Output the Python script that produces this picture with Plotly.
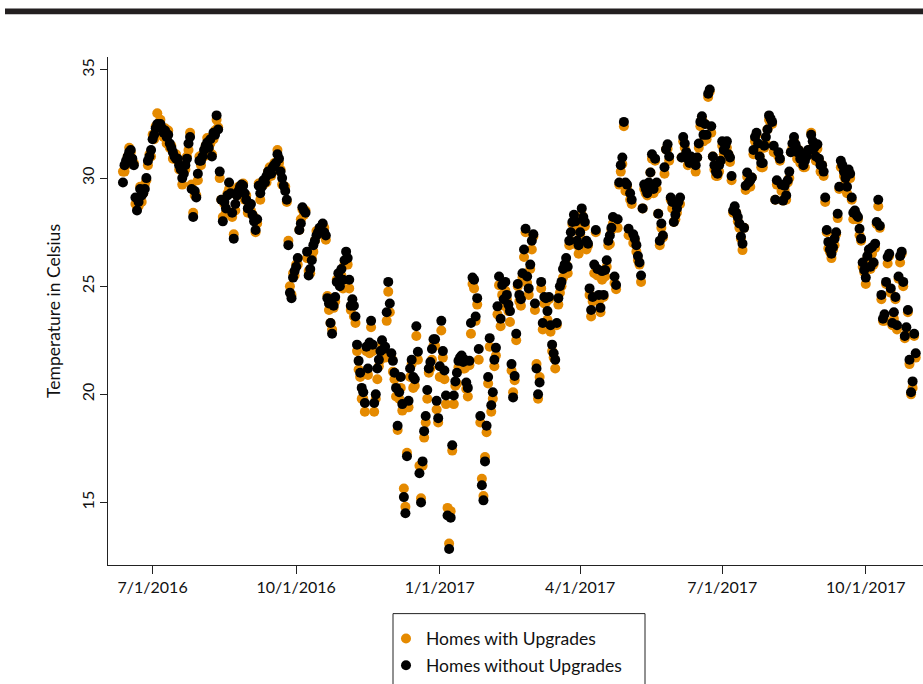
import pandas as pd
import plotly.graph_objects as go

# ---------------- data (daily readings, first day 2016-06-12) ----------------
start_date = "2016-06-12"

series_names = ["Homes with Upgrades", "Homes without Upgrades"]

without_upgrades = [
    29.8, 30.6, 30.8, 31.0, 31.2, 31.3, 30.9, 30.6, 29.1, 28.5,
    28.9, 29.5, 29.2, 29.3, 29.5, 30.0, 30.8, 31.0, 31.3, 31.8,
    32.0, 32.3, 32.5, 32.4, 32.5, 32.3, 32.1, 32.2, 31.9, 32.0,
    31.6, 31.4, 31.2, 31.0, 30.9, 30.9, 30.6, 30.4, 30.0, 30.2,
    30.6, 30.9, 31.6, 31.9, 29.5, 28.2, 29.4, 29.1, 30.2, 30.8,
    30.8, 31.0, 31.3, 31.5, 31.65, 31.4, 31.8, 31.0, 32.1, 32.0,
    32.9, 32.25, 30.3, 29.0, 28.0, 28.9, 28.6, 29.2, 29.8, 29.3,
    28.4, 27.2, 28.8, 29.2, 29.4, 29.6, 29.7, 29.65, 29.3, 29.0,
    28.6, 28.7, 28.8, 28.3, 28.0, 27.6, 28.1, 29.65, 29.3, 29.6,
    29.9, 29.8, 30.1, 30.3, 30.3, 30.2, 30.5, 30.6, 30.7, 31.1,
    30.9, 30.3, 30.0, 29.65, 29.4, 29.0, 26.9, 24.7, 24.45, 25.4,
    25.7, 25.9, 26.3, 27.6, 27.9, 28.65, 28.5, 28.4, 26.6, 25.5,
    25.8, 26.2, 26.9, 27.1, 27.35, 27.5, 27.7, 27.6, 27.9, 27.5,
    27.35, 24.45, 24.2, 23.3, 22.8, 24.1, 24.5, 25.2, 25.6, 25.0,
    25.8, 25.3, 26.2, 26.6, 26.3, 25.3, 24.1, 24.4, 24.1, 23.6,
    22.3, 21.55, 21.0, 20.3, 20.1, 19.6, 22.2, 21.2, 22.4, 23.4,
    22.3, 19.6, 20.0, 21.2, 21.6, 22.0, 22.5, 22.1, 22.2, 23.8,
    25.2, 24.2, 21.9, 21.55, 21.0, 20.3, 18.55, 20.1, 20.8, 19.55,
    15.25, 14.5, 17.14, 19.7, 21.2, 21.6, 20.8, 20.7, 23.15, 21.97,
    16.35, 15.0, 16.9, 18.3, 19.0, 20.2, 21.2, 21.5, 22.1, 22.55,
    22.55, 19.7, 18.9, 21.3, 23.4, 22.0, 21.1, 19.95, 14.4, 12.85,
    14.3, 17.65, 19.95, 20.6, 21.0, 21.55, 21.7, 21.8, 21.5, 21.6,
    20.55, 20.3, 21.55, 23.3, 25.4, 25.3, 23.6, 24.45, 22.1, 19.0,
    15.8, 15.1, 16.9, 18.55, 20.8, 22.6, 19.5, 20.1, 21.6, 22.15,
    24.07, 25.45, 23.5, 25.06, 24.4, 25.2, 24.6, 24.15, 23.85, 21.4,
    19.86, 20.85, 22.8, 25.1, 24.6, 24.4, 25.6, 26.7, 27.66, 25.45,
    24.9, 26.0, 27.1, 27.4, 24.2, 21.2, 20.0, 20.55, 25.2, 23.3,
    24.5, 24.45, 23.85, 24.5, 23.2, 22.3, 21.9, 21.6, 23.3, 24.45,
    25.0, 25.2, 25.8, 26.0, 26.3, 25.9, 27.1, 27.5, 27.97, 28.3,
    28.0, 27.1, 26.9, 27.5, 28.6, 28.2, 27.97, 27.1, 26.97, 24.9,
    23.9, 24.5, 26.0, 27.6, 25.8, 24.6, 24.0, 25.7, 24.6, 25.75,
    26.2, 27.1, 27.35, 27.7, 28.2, 25.45, 25.06, 28.1, 29.8, 30.6,
    30.95, 32.6, 29.8, 29.7, 27.66, 29.3, 29.0, 27.4, 27.2, 26.9,
    26.4, 26.1, 25.5, 28.6, 29.7, 29.5, 29.3, 29.8, 30.26, 31.1,
    29.5, 30.9, 29.8, 28.35, 27.1, 27.9, 27.35, 30.5, 31.33, 31.56,
    31.0, 29.1, 28.9, 27.97, 28.3, 28.6, 28.9, 29.1, 30.95, 31.9,
    31.6, 31.2, 30.9, 30.7, 31.0, 30.9, 30.8, 30.6, 30.95, 31.6,
    32.6, 32.86, 32.0, 32.5, 32.0, 33.9, 34.1, 32.4, 31.0, 30.6,
    30.3, 30.2, 30.6, 30.8, 31.7, 31.3, 31.5, 31.7, 31.1, 30.95,
    30.1, 28.5, 28.7, 28.4, 28.2, 27.9, 27.3, 26.97, 27.7, 29.65,
    30.26, 29.8, 29.9, 30.03, 31.3, 31.9, 32.1, 31.6, 31.0, 30.7,
    30.7, 31.5, 31.9, 32.25, 32.9, 32.75, 32.6, 31.5, 29.0, 29.9,
    31.2, 30.9, 29.7, 28.96, 29.65, 29.2, 29.9, 30.3, 31.2, 31.6,
    31.9, 31.56, 31.2, 31.3, 30.9, 31.1, 30.6, 30.8, 31.0, 31.3,
    31.3, 32.0, 31.7, 31.4, 31.0, 31.56, 30.9, 30.6, 30.6, 30.3,
    29.1, 27.6, 27.05, 26.7, 26.5, 26.8, 27.2, 27.5, 28.35, 29.6,
    30.8, 30.6, 30.3, 30.0, 29.6, 30.4, 30.2, 29.1, 28.4, 28.5,
    28.3, 28.2, 27.66, 27.2, 26.1, 25.75, 25.4, 26.4, 26.7, 25.9,
    26.8, 26.1, 26.97, 27.97, 29.0, 27.8, 24.6, 23.5, 23.7, 25.2,
    26.35, 26.5, 24.9, 23.3, 23.8, 24.5, 23.2, 25.45, 26.4, 26.6,
    25.2, 22.7, 23.1, 23.9, 21.6, 20.1, 20.6, 22.8, 21.9,
]

with_upgrades = [
    30.3, 30.3, 30.6, 31.0, 31.4, 31.2, 30.7, 30.7, 28.8, 28.7,
    28.7, 29.6, 28.9, 29.3, 29.7, 29.9, 30.6, 31.1, 31.0, 32.0,
    31.8, 32.4, 33.0, 32.4, 32.7, 32.2, 31.9, 32.3, 31.6, 32.2,
    31.4, 31.5, 30.9, 31.0, 31.1, 30.8, 30.4, 30.5, 29.7, 30.4,
    30.4, 31.0, 31.3, 32.1, 29.7, 28.4, 29.2, 29.2, 29.9, 31.0,
    30.6, 31.1, 31.0, 31.5, 31.85, 31.3, 31.6, 31.1, 31.8, 32.2,
    32.7, 32.35, 30.0, 29.0, 28.2, 28.8, 28.4, 29.3, 29.5, 29.5,
    28.2, 27.4, 28.5, 29.2, 29.6, 29.5, 29.5, 29.75, 29.0, 29.2,
    28.4, 28.8, 28.5, 28.3, 28.2, 27.5, 27.9, 29.75, 29.0, 29.8,
    29.7, 29.9, 29.8, 30.3, 30.5, 30.1, 30.3, 30.7, 30.4, 31.3,
    30.7, 30.4, 29.7, 29.65, 29.6, 28.9, 27.1, 25.0, 24.6, 25.6,
    25.5, 26.0, 26.0, 27.6, 28.1, 28.55, 28.3, 28.5, 26.3, 25.7,
    25.6, 26.3, 26.6, 27.1, 27.55, 27.4, 27.5, 27.7, 27.6, 27.7,
    27.15, 24.55, 23.9, 23.3, 23.0, 24.0, 24.3, 25.3, 25.3, 25.2,
    25.5, 24.9, 26.0, 26.1, 26.0, 24.9, 23.9, 24.1, 23.6, 23.3,
    22.0, 21.15, 20.8, 19.8, 19.8, 19.2, 22.0, 20.9, 21.9, 23.1,
    22.0, 19.2, 19.8, 20.7, 21.3, 21.6, 22.3, 21.8, 21.7, 23.4,
    24.75, 23.8, 21.7, 21.05, 20.7, 19.9, 18.35, 19.8, 20.3, 19.25,
    15.65, 14.8, 17.3, 19.4, 20.8, 21.4, 20.3, 20.4, 22.7, 21.6,
    16.7, 15.2, 16.7, 18.0, 18.7, 19.8, 21.0, 21.2, 21.6, 22.25,
    22.25, 19.3, 18.7, 20.8, 22.95, 21.7, 20.7, 19.55, 14.75, 13.1,
    14.6, 17.4, 19.55, 20.4, 20.5, 21.25, 21.3, 21.6, 21.2, 21.2,
    20.25, 19.9, 21.35, 22.8, 25.1, 24.9, 23.4, 24.15, 21.6, 18.7,
    16.1, 15.3, 17.1, 18.25, 20.5, 22.2, 19.2, 19.8, 21.3, 21.8,
    23.7, 25.05, 23.15, 24.6, 24.1, 24.8, 24.4, 23.85, 23.35, 21.1,
    20.1, 20.65, 22.5, 25.0, 24.3, 24.1, 25.4, 26.35, 27.5, 25.15,
    24.6, 25.8, 26.7, 27.3, 23.9, 21.4, 19.8, 20.8, 24.9, 23.0,
    24.2, 24.25, 23.45, 24.4, 22.9, 22.0, 21.7, 21.2, 23.2, 24.15,
    24.7, 25.0, 25.4, 25.9, 26.0, 25.6, 26.9, 27.1, 27.87, 28.0,
    27.7, 26.9, 26.5, 27.4, 28.3, 27.9, 27.77, 26.7, 26.87, 24.6,
    23.6, 24.3, 25.6, 27.5, 25.5, 24.3, 23.8, 25.3, 24.5, 25.45,
    25.9, 26.9, 26.95, 27.6, 27.9, 25.15, 24.86, 27.7, 29.7, 30.3,
    30.65, 32.4, 29.4, 29.6, 27.36, 29.0, 28.8, 27.0, 27.1, 26.6,
    26.2, 26.0, 25.2, 28.6, 29.5, 29.3, 29.2, 29.5, 30.26, 30.9,
    29.3, 30.8, 29.5, 28.35, 26.9, 27.7, 27.25, 30.2, 31.33, 31.36,
    30.8, 29.0, 28.6, 27.97, 28.1, 28.4, 28.8, 28.8, 30.95, 31.7,
    31.4, 31.1, 30.6, 30.7, 30.8, 30.7, 30.7, 30.3, 30.95, 31.4,
    32.4, 32.76, 31.7, 32.5, 31.8, 33.75, 34.0, 32.1, 31.0, 30.4,
    30.1, 30.1, 30.3, 30.8, 31.5, 31.1, 31.4, 31.4, 31.1, 30.75,
    29.9, 28.4, 28.4, 28.4, 28.0, 27.7, 27.2, 26.67, 27.7, 29.45,
    30.06, 29.7, 29.6, 30.03, 31.1, 31.7, 32.0, 31.3, 31.0, 30.5,
    30.5, 31.4, 31.6, 32.25, 32.7, 32.55, 32.5, 31.2, 29.0, 29.7,
    31.0, 30.8, 29.4, 28.96, 29.45, 29.0, 29.8, 30.0, 31.2, 31.4,
    31.7, 31.46, 30.9, 31.3, 30.7, 30.9, 30.5, 30.5, 31.0, 31.1,
    31.1, 32.1, 31.4, 31.4, 30.8, 31.36, 30.8, 30.3, 30.6, 30.1,
    28.9, 27.5, 26.75, 26.6, 26.3, 26.7, 26.9, 27.4, 28.15, 29.5,
    30.5, 30.5, 30.1, 29.9, 29.3, 30.3, 30.0, 29.0, 28.1, 28.4,
    28.1, 28.1, 27.36, 27.1, 25.9, 25.65, 25.1, 26.3, 26.5, 25.8,
    26.5, 26.0, 26.77, 27.87, 28.7, 27.7, 24.4, 23.4, 23.4, 25.1,
    26.05, 26.4, 24.7, 23.2, 23.5, 24.4, 23.0, 25.35, 26.1, 26.5,
    25.0, 22.6, 22.8, 23.8, 21.4, 20.0, 20.3, 22.7, 21.7,
]

tick_dates = ["2016-07-01", "2016-10-01", "2017-01-01",
              "2017-04-01", "2017-07-01", "2017-10-01"]
tick_labels = ["7/1/2016", "10/1/2016", "1/1/2017",
               "4/1/2017", "7/1/2017", "10/1/2017"]
y_ticks = [15, 20, 25, 30, 35]

# ---------------- figure ----------------
W, H = 923, 684
ML = 108          # y axis line at x=108
MT = 57           # top of plot at y=57
MR = 0            # plot runs to the right edge
MB = H - 569      # x axis line at y=569
PW, PH = W - ML - MR, H - MT - MB


def px_x(p):
    return (p - ML) / PW


def px_y(p):
    return (H - MB - p) / PH


FONT = "Lato, 'Open Sans', sans-serif"
ORANGE = "#E58A00"

dates_with = pd.date_range(start_date, periods=len(with_upgrades), freq="D")
dates_without = pd.date_range(start_date, periods=len(without_upgrades), freq="D")

fig = go.Figure()
fig.add_trace(go.Scatter(
    x=dates_with, y=with_upgrades, mode="markers", name=series_names[0],
    legendgroup="a",
    marker=dict(color=ORANGE, size=10, line=dict(width=0)),
))
fig.add_trace(go.Scatter(
    x=dates_without, y=without_upgrades, mode="markers", name=series_names[1],
    legendgroup="b",
    marker=dict(color="#000000", size=10, line=dict(width=0)),
))

fig.update_layout(
    width=W, height=H, autosize=False,
    margin=dict(l=ML, r=MR, t=MT, b=MB, pad=0),
    paper_bgcolor="white", plot_bgcolor="white",
    font=dict(family=FONT, size=16, color="#111"),
    showlegend=True,
    legend=dict(
        x=px_x(386), y=px_y(625), xanchor="left", yanchor="top",
        bgcolor="rgba(0,0,0,0)", borderwidth=0,
        font=dict(family=FONT, size=17.5, color="#111"),
        tracegroupgap=1, itemwidth=30,
    ),
    xaxis=dict(
        type="date",
        range=["2016-06-02 10:00", "2017-11-06 16:00"],
        showgrid=False, zeroline=False,
        showline=True, linecolor="#222", linewidth=1,
        ticks="outside", ticklen=8, tickcolor="#222", tickwidth=1,
        tickmode="array", tickvals=tick_dates, ticktext=tick_labels,
        tickfont=dict(family=FONT, size=16, color="#111"),
    ),
    yaxis=dict(
        range=[12.11, 35.6],
        showgrid=False, zeroline=False,
        showline=True, linecolor="#222", linewidth=1,
        ticks="outside", ticklen=7, tickcolor="#222", tickwidth=1,
        tickmode="array", tickvals=y_ticks,
        ticktext=[str(v) for v in y_ticks],
        tickangle=-90,
        tickfont=dict(family=FONT, size=16, color="#111"),
        title=dict(text="Temperature in Celsius",
                   font=dict(family=FONT, size=17.5, color="#111"),
                   standoff=12),
    ),
    shapes=[
        # thick rule across the top
        dict(type="rect", xref="paper", yref="paper",
             x0=px_x(5), x1=px_x(940), y0=px_y(14), y1=px_y(8),
             fillcolor="#231F20", line=dict(width=0), layer="above"),
        # legend frame
        dict(type="rect", xref="paper", yref="paper",
             x0=px_x(393), x1=px_x(645), y0=px_y(710), y1=px_y(618),
             fillcolor="rgba(0,0,0,0)", line=dict(color="#222", width=1),
             layer="above"),
    ],
)

# place the figure flush with the window's top-left corner, no mode bar
fig.write_html(
    "out.html",
    config={"displayModeBar": False},
    post_script="document.body.style.margin='0';"
                "document.body.style.overflow='hidden';",
)
